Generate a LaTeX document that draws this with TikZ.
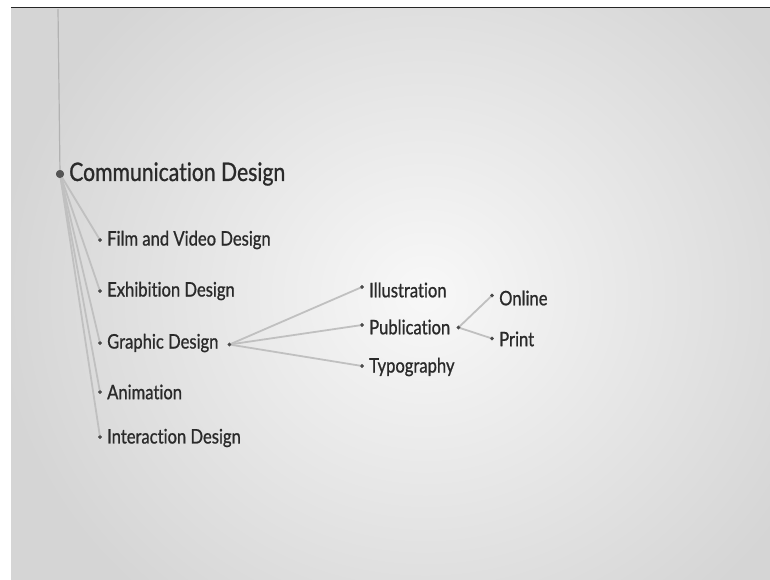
\documentclass[tikz,border=0pt]{standalone}
\usepackage{fontspec}
\setmainfont[FakeStretch=0.83,FakeBold=0.9,Ligatures={NoCommon,NoRequired,NoContextual}]{Lato}
\definecolor{txt}{HTML}{2A2A2A}
\definecolor{edge}{HTML}{C0C0C0}
\definecolor{bgout}{HTML}{D5D5D5}
\definecolor{bgin}{HTML}{F8F8F8}
\tikzset{
  bigdot/.style={circle,fill=txt!80,inner sep=0pt,minimum size=8pt},
  smalldot/.style={circle,fill=txt!85,inner sep=0pt,minimum size=3.6pt},
  biglabel/.style={anchor=west,inner sep=0pt,text=txt,font=\fontsize{25.5}{30}\selectfont},
  sublabel/.style={anchor=west,inner sep=0pt,text=txt,font=\fontsize{20}{24}\selectfont},
  link/.style={draw=edge,line width=1.8pt,line cap=round},
}
\begin{document}
\begin{tikzpicture}[x=1pt,y=-1pt]
\useasboundingbox (0,0) rectangle (770,579);
\fill[white] (0,0) rectangle (770,579);
\begin{scope}
  \clip (11,8) rectangle (780,590);
  \fill[bgout] (11,8) rectangle (780,590);
  \shade[inner color=bgin,outer color=bgout] (425,295) ellipse [x radius=430,y radius=400];
\end{scope}
\draw[black!85,line width=1.6pt] (11,7.5) -- (780,7.5);
\coordinate (top) at (58,9);
% dots
\node[bigdot] (cd) at (60,174) {};
\node[smalldot] (film) at (100,240) {};
\node[smalldot] (exh) at (100,291) {};
\node[smalldot] (gra) at (100,343) {};
\node[smalldot] (ani) at (100,392) {};
\node[smalldot] (int) at (100,437) {};
\node[smalldot] (graR) at (229.5,344.5) {};
\node[smalldot] (ill) at (362,287) {};
\node[smalldot] (pub) at (362,325) {};
\node[smalldot] (typ) at (362,366) {};
\node[smalldot] (pubR) at (458.5,327.5) {};
\node[smalldot] (onl) at (492,295.5) {};
\node[smalldot] (pri) at (492,338.5) {};
% connectors
\draw[draw=black!30,line width=1.2pt] (top) -- (cd.center);
\foreach \c in {film,exh,gra,ani,int}
  \draw[link] (cd.center) -- (\c.center);
\foreach \c in {ill,pub,typ}
  \draw[link] (graR.center) -- (\c.center);
\foreach \c in {onl,pri}
  \draw[link] (pubR.center) -- (\c.center);
% redraw dots above lines
\foreach \c in {film,exh,gra,ani,int,graR,ill,pub,typ,pubR,onl,pri}
  \fill[txt!85] (\c) circle (1.9pt);
\fill[txt!80] (cd) circle (4pt);
% labels
\node[biglabel] (cdL) at (69,174) {Communication Design};
\node[sublabel] (filmL) at (107,240) {Film and Video Design};
\node[sublabel] (exhL) at (107,291) {Exhibition Design};
\node[sublabel] (graL) at (107,343) {Graphic Design};
\node[sublabel] (aniL) at (107,392) {Animation};
\node[sublabel] (intL) at (107,438) {Interaction Design};
\node[sublabel] (illL) at (369,290) {Illustration};
\node[sublabel] (pubL) at (369,327) {Publication};
\node[sublabel] (typL) at (369,367) {Typography};
\node[sublabel] (onlL) at (499,298) {Online};
\node[sublabel] (priL) at (499,339) {Print};
\end{tikzpicture}
\end{document}
